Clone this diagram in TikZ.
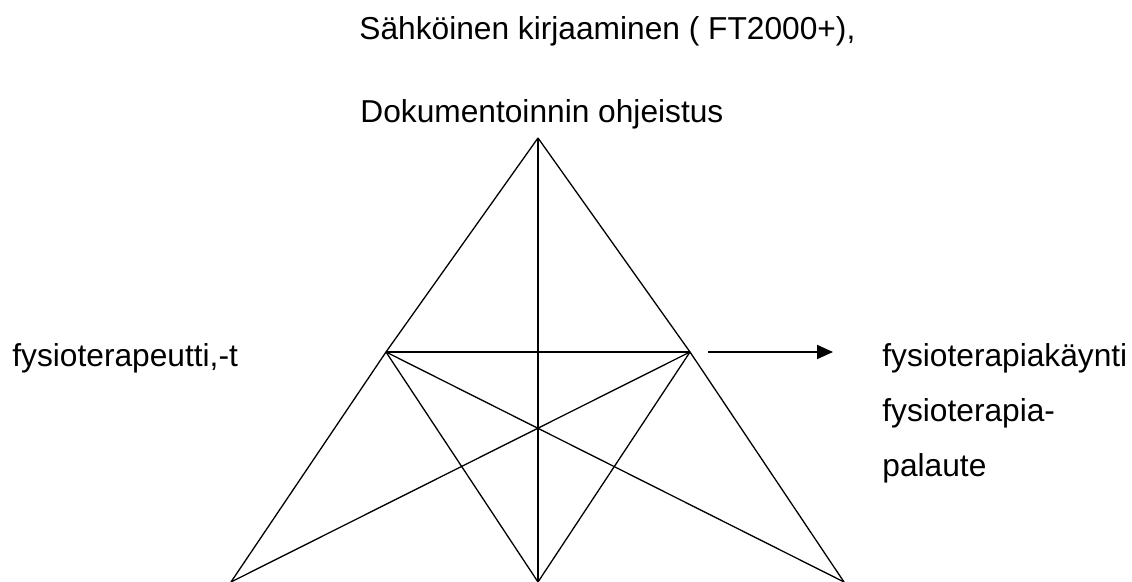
\documentclass[tikz,border=0pt]{standalone}
\usepackage{fontspec}
\setmainfont{Liberation Sans}
\usetikzlibrary{arrows.meta}
\begin{document}
\begin{tikzpicture}[
	x=0.5pt, y=-0.5pt,
	font=\fontsize{15.85}{19}\selectfont,
	>={Triangle[length=8pt,width=7pt]},
	lbl/.style={anchor=base west, inner sep=0pt},
	edge/.style={line width=0.65pt, black},
	arr/.style={->, line width=1pt, black}
]
\useasboundingbox (0,0) rectangle (1132,582);

% Corners of the triangle
\coordinate (top)  at (538,138);
\coordinate (lmid) at (386,352);
\coordinate (rmid) at (690,352);
\coordinate (bl)   at (231,582);
\coordinate (bm)   at (538,582);
\coordinate (br)   at (844,582);

\foreach \a/\b in {top/lmid,top/rmid,top/bm,lmid/rmid,lmid/bl,rmid/br,lmid/bm,rmid/bm,lmid/br,rmid/bl}
	\draw[edge] (\a) -- (\b);

% Tools above the apex
\node[lbl] (tool1) at (359,40)  {Sähköinen kirjaaminen ( FT2000+),};
\node[lbl] (tool2) at (360,123) {Dokumentoinnin ohjeistus};

% Subject left, object right
\node[lbl] (subj) at (12,367)  {fysioterapeutti,-t};
\node[lbl] (obj1) at (882,367) {fysioterapiakäynti};
\node[lbl] (obj2) at (882,422) {fysioterapia-};
\node[lbl] (obj3) at (882,477) {palaute};

\coordinate (outstart) at (708,352);
\coordinate (outend)   at (833,352);
\draw[arr] (outstart) -- (outend);

\end{tikzpicture}
\end{document}
